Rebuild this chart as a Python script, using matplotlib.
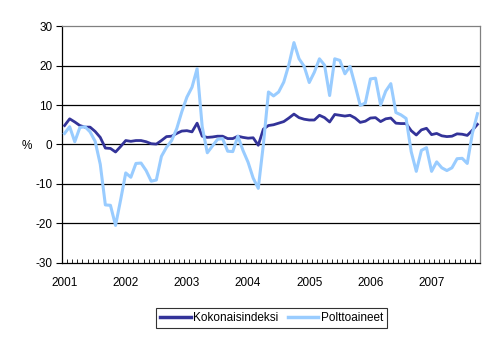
import numpy as np
import matplotlib
matplotlib.use("Agg")
import matplotlib.pyplot as plt

plt.rcParams['font.family'] = ['Liberation Sans', 'DejaVu Sans']
plt.rcParams['axes.unicode_minus'] = False

# monthly annual change (%), Jan 2001 - Oct 2007
years = ["2001", "2002", "2003", "2004", "2005", "2006", "2007"]

kokonais = [4.8, 6.5, 5.7, 4.8, 4.4, 4.4, 3.3, 1.8, -0.9, -1.0, -1.9, -0.5,
            1.0, 0.8, 1.0, 1.0, 0.7, 0.2, 0.1, 1.0, 2.0, 2.1, 2.8, 3.4,
            3.5, 3.2, 5.4, 2.1, 1.8, 1.9, 2.1, 2.1, 1.5, 1.5, 2.1, 1.8,
            1.6, 1.7, -0.2, 3.9, 4.8, 5.0, 5.4, 5.8, 6.7, 7.7, 6.8, 6.4,
            6.2, 6.2, 7.4, 6.8, 5.7, 7.6, 7.4, 7.2, 7.4, 6.7, 5.6, 5.9,
            6.7, 6.8, 5.8, 6.5, 6.7, 5.4, 5.3, 5.3, 3.5, 2.4, 3.7, 4.1,
            2.5, 2.8, 2.2, 2.0, 2.1, 2.7, 2.6, 2.3, 3.6, 5.1]

polttoaineet = [2.8, 4.5, 0.7, 4.3, 4.5, 3.2, 0.8, -5.0, -15.3, -15.4, -20.5, -14.0,
                -7.2, -8.3, -4.8, -4.7, -6.6, -9.3, -9.0, -3.0, -0.7, 1.0, 4.0, 8.3,
                12.0, 14.5, 19.2, 4.5, -2.1, -0.4, 1.3, 1.5, -1.7, -1.8, 2.1, -1.5,
                -4.5, -8.5, -11.1, 0.0, 13.3, 12.3, 13.3, 15.8, 20.2, 25.8, 21.7, 19.8,
                15.7, 18.3, 21.7, 20.1, 12.4, 21.7, 21.3, 17.9, 19.8, 15.0, 9.9, 10.5,
                16.6, 16.8, 10.0, 13.5, 15.4, 8.1, 7.5, 6.6, -1.8, -6.8, -1.5, -0.8,
                -6.8, -4.4, -5.9, -6.6, -5.9, -3.6, -3.5, -4.8, 2.8, 7.8]

x = np.arange(len(kokonais))

fig = plt.figure(figsize=(4.95, 3.38), dpi=100)
ax = fig.add_axes([0.1253, 0.222, 0.8444, 0.701])

ax.plot(x, kokonais, color="#333399", lw=2.0, label="Kokonaisindeksi", zorder=3)
ax.plot(x, polttoaineet, color="#99CCFF", lw=2.2, label="Polttoaineet", zorder=4)

ax.set_xlim(-0.5, len(x) - 0.5)
ax.set_ylim(-30, 30)

# horizontal gridlines
for g in [-20, -10, 0, 10, 20]:
    ax.axhline(g, color="black", lw=0.9, zorder=1)

ax.set_yticks(np.arange(-30, 31, 10))
ax.tick_params(axis="y", direction="out", length=4, width=0.8, labelsize=8.5, pad=3)

# month boundaries as small ticks, year labels under January
ax.set_xticks(np.arange(-0.5, len(x), 1))
ax.set_xticklabels([])
ax.tick_params(axis="x", direction="in", length=3, width=0.6)
for k, yr in enumerate(years):
    ax.text(12 * k, -35.2, yr, ha="center", va="center", fontsize=8.5,
            transform=ax.transData, clip_on=False)

ax.spines["top"].set_color("#808080")
ax.spines["right"].set_color("#808080")
ax.spines["left"].set_color("black")
ax.spines["bottom"].set_color("black")
for s in ax.spines.values():
    s.set_linewidth(0.9)

fig.text(22 / 495, 1 - 146 / 338, "%", ha="left", va="center", fontsize=8.5)

leg = fig.legend(loc="center", bbox_to_anchor=(271.5 / 495, 1 - 318 / 338), ncol=2,
                 fontsize=8.5, frameon=True, fancybox=False, shadow=False,
                 handlelength=2.6, handletextpad=0.2, columnspacing=0.8,
                 borderpad=0.35)
leg.get_frame().set_edgecolor("black")
leg.get_frame().set_linewidth(0.8)
for line in leg.get_lines():
    line.set_linewidth(2.5)

fig.savefig("out.png", dpi=100)
